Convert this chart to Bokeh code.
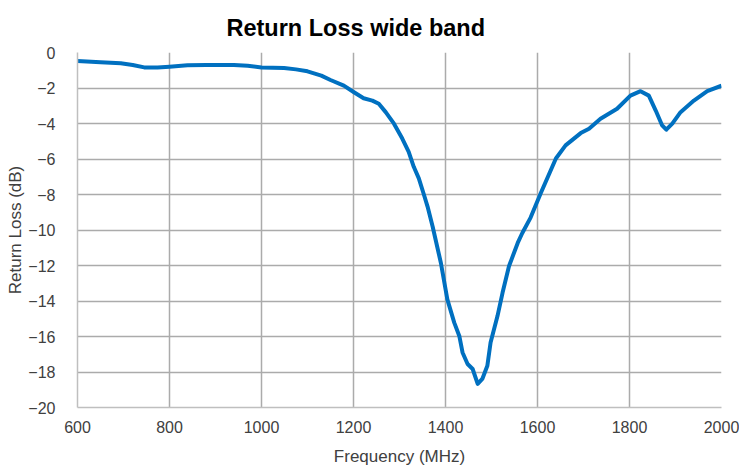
from bokeh.plotting import figure
from bokeh.models import Range1d, FixedTicker
from bokeh.embed import file_html
from bokeh.resources import INLINE

title_text = "Return Loss wide band"
freq = [600, 650, 694, 720, 745, 774, 800, 839, 880, 940, 970, 1000, 1049, 1075, 1100,
        1130, 1150, 1179, 1201, 1222, 1241, 1255, 1270, 1288, 1306, 1320, 1331, 1342,
        1353, 1361, 1372, 1390, 1404, 1419, 1430, 1437, 1448, 1459, 1470, 1480, 1491,
        1498, 1513, 1524, 1538, 1557, 1567, 1585, 1607, 1640, 1661, 1694, 1712, 1737,
        1773, 1802, 1824, 1842, 1857, 1871, 1880, 1893, 1911, 1940, 1969, 2000]
return_loss = [-0.48, -0.55, -0.61, -0.70, -0.84, -0.84, -0.80, -0.72, -0.70, -0.70, -0.75,
               -0.84, -0.87, -0.95, -1.06, -1.30, -1.55, -1.87, -2.24, -2.58, -2.71, -2.89,
               -3.36, -4.01, -4.85, -5.60, -6.44, -7.09, -8.00, -8.68, -9.80, -11.86,
               -13.91, -15.22, -15.97, -16.90, -17.55, -17.83, -18.67, -18.39, -17.65,
               -16.34, -14.85, -13.54, -12.04, -10.73, -10.17, -9.30, -7.93, -5.97, -5.23,
               -4.54, -4.29, -3.73, -3.17, -2.43, -2.18, -2.43, -3.27, -4.11, -4.35, -4.01,
               -3.36, -2.71, -2.18, -1.87]
x_ticks = [600, 800, 1000, 1200, 1400, 1600, 1800, 2000]
y_ticks = [0, -2, -4, -6, -8, -10, -12, -14, -16, -18, -20]

p = figure(width=739, height=468, output_backend="svg", toolbar_location=None,
           x_range=Range1d(600, 2000), y_range=Range1d(-20, 0),
           min_border_left=77, min_border_right=18, min_border_top=52, min_border_bottom=59,
           title=title_text)
p.outline_line_color = None
p.background_fill_color = "white"

p.title.text_font = "Liberation Sans"
p.title.text_font_size = "23.5px"
p.title.text_font_style = "bold"
p.title.text_color = "#000000"
p.title.text_line_height = 1.0
p.title.align = "left"
p.title.offset = 149
p.title.standoff = 23

font = "Liberation Sans"
for ax in (p.xaxis[0], p.yaxis[0]):
    ax.major_tick_line_color = None
    ax.minor_tick_line_color = None
    ax.axis_line_color = "#BFBFBF"
    ax.axis_line_width = 1.5
    ax.major_label_text_font = font
    ax.major_label_text_font_size = "16px"
    ax.major_label_text_color = "#404040"
    ax.axis_label_text_font = font
    ax.axis_label_text_font_size = "17px"
    ax.axis_label_text_font_style = "normal"
    ax.axis_label_text_color = "#404040"

p.xaxis.ticker = FixedTicker(ticks=x_ticks)
p.yaxis.ticker = FixedTicker(ticks=y_ticks)
p.xaxis.axis_label = "Frequency (MHz)"
p.yaxis.axis_label = "Return Loss (dB)"
p.xaxis.major_label_standoff = 7
p.xaxis.axis_label_standoff = 11
p.yaxis.major_label_standoff = 16
p.yaxis.axis_label_standoff = 0

p.xgrid.ticker = FixedTicker(ticks=x_ticks)
p.ygrid.ticker = FixedTicker(ticks=y_ticks)
p.grid.grid_line_color = "#ABABAB"
p.grid.grid_line_width = 1.5

p.line(freq, return_loss, line_color="#0070C0", line_width=4, line_join="round")

open("out.html", "w").write(file_html(p, INLINE))
